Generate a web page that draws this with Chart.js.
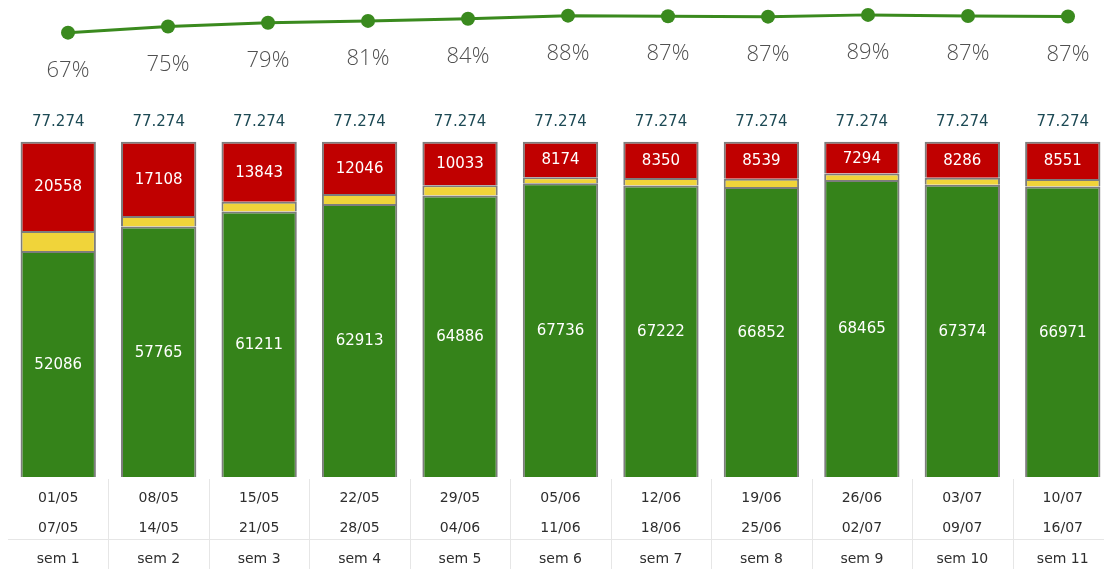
<!DOCTYPE html>
<html>
<head>
<meta charset="utf-8">
<script src="https://cdn.jsdelivr.net/npm/chart.js@4/dist/chart.umd.min.js"></script>
<style>
  html, body { margin: 0; padding: 0; background: #fff; overflow: hidden; }
  #wrap { width: 1120px; height: 569px; position: relative; }
  #c { display: block; }
</style>
</head>
<body>
<div id="wrap"><canvas id="c" width="1120" height="569"></canvas></div>
<script>
const categories = ['sem 1','sem 2','sem 3','sem 4','sem 5','sem 6','sem 7','sem 8','sem 9','sem 10','sem 11'];
const dateFrom = ['01/05','08/05','15/05','22/05','29/05','05/06','12/06','19/06','26/06','03/07','10/07'];
const dateTo   = ['07/05','14/05','21/05','28/05','04/06','11/06','18/06','25/06','02/07','09/07','16/07'];
const greenValues  = [52086,57765,61211,62913,64886,67736,67222,66852,68465,67374,66971];
const yellowValues = [4630,2401,2220,2315,2355,1364,1702,1883,1515,1614,1752];
const redValues    = [20558,17108,13843,12046,10033,8174,8350,8539,7294,8286,8551];
const pctValues    = [67.4,74.8,79.2,81.4,84.0,87.7,87.0,86.5,88.6,87.2,86.7];

const GREEN = '#35831a', YELLOW = '#f0d43a', RED = '#c00000', BORDER = '#7d7d7d';

const labelPlugin = {
  id: 'labels',
  afterDatasetsDraw(chart) {
    const ctx = chart.ctx;
    ctx.save();
    ctx.textAlign = 'center';
    ctx.textBaseline = 'middle';
    [0, 2].forEach(di => {
      const meta = chart.getDatasetMeta(di);
      meta.data.forEach((bar, i) => {
        const v = chart.data.datasets[di].data[i];
        const p = bar.getProps(['x','y','base'], true);
        ctx.fillStyle = '#ffffff';
        ctx.font = '15px "DejaVu Sans"';
        ctx.fillText(String(v), p.x, (p.y + p.base) / 2 + 1);
      });
    });
    const top = chart.getDatasetMeta(2);
    top.data.forEach((bar, i) => {
      const total = greenValues[i] + yellowValues[i] + redValues[i];
      const p = bar.getProps(['x','y'], true);
      ctx.fillStyle = '#1d4a55';
      ctx.font = '15px "DejaVu Sans"';
      ctx.fillText(total.toLocaleString('de-DE'), p.x, p.y - 20);
    });
    const lm = chart.getDatasetMeta(3);
    lm.data.forEach((pt, i) => {
      ctx.fillStyle = '#505050';
      ctx.font = '300 22px "Open Sans"';
      ctx.fillText(Math.round(pctValues[i]) + '%', pt.x, pt.y + 38);
    });
    ctx.restore();
  },
  afterDraw(chart) {
    const ctx = chart.ctx;
    const xs = chart.scales.x;
    const ca = chart.chartArea;
    const H = chart.height;
    ctx.save();
    ctx.strokeStyle = '#e6e6e6';
    ctx.lineWidth = 1;
    for (let i = 0; i < categories.length; i++) {
      const x = Math.round((xs.getPixelForValue(i) + xs.getPixelForValue(i + 1)) / 2) + 0.5;
      ctx.beginPath();
      ctx.moveTo(x, ca.bottom + 2);
      ctx.lineTo(x, H);
      ctx.stroke();
    }
    const yLine = Math.round(ca.bottom + (H - ca.bottom) * 0.67) + 0.5;
    ctx.beginPath();
    ctx.moveTo(ca.left, yLine);
    ctx.lineTo(chart.width, yLine);
    ctx.stroke();
    ctx.restore();
  }
};

new Chart(document.getElementById('c'), {
  type: 'bar',
  data: {
    labels: categories.map((c, i) => [dateFrom[i], dateTo[i], c]),
    datasets: [
      { type: 'bar', grouped: false, data: greenValues, backgroundColor: GREEN, borderColor: BORDER, borderWidth: 2, xAxisID: 'x', yAxisID: 'y', order: 2 },
      { type: 'bar', grouped: false, data: yellowValues, backgroundColor: YELLOW, borderColor: BORDER, borderWidth: 2, xAxisID: 'x', yAxisID: 'y', order: 2 },
      { type: 'bar', grouped: false, data: redValues, backgroundColor: RED, borderColor: BORDER, borderWidth: 2, xAxisID: 'x', yAxisID: 'y', order: 2 },
      { type: 'line', data: pctValues.map((v, i) => ({ x: i, y: v })), borderColor: '#3a8a1e', backgroundColor: '#3a8a1e',
        borderWidth: 3, pointRadius: 7, pointHoverRadius: 7, pointBorderWidth: 0, xAxisID: 'x2', yAxisID: 'y2', order: 1, tension: 0 }
    ]
  },
  options: {
    responsive: false,
    maintainAspectRatio: false,
    devicePixelRatio: 1,
    animation: false,
    layout: { padding: { left: 8, right: 1, top: 0, bottom: 0 } },
    datasets: { bar: { categoryPercentage: 1, barPercentage: 0.75 } },
    plugins: { legend: { display: false }, tooltip: { enabled: false } },
    scales: {
      x: {
        stacked: true,
        grid: { display: false },
        border: { display: false },
        ticks: { autoSkip: false, maxRotation: 0, padding: -2, color: '#2e2e2e',
                 font: { family: 'DejaVu Sans', size: 14, lineHeight: 30.5 / 14 } },
        afterFit(scale) { scale.height = 92; }
      },
      x2: { type: 'linear', display: false, offset: false, grace: 0, min: -0.6, max: 10.45 },
      y: { stacked: true, display: false, min: 0, max: 108350 },
      y2: { type: 'linear', display: false, min: -463, max: 98 }
    }
  },
  plugins: [labelPlugin]
});
</script>
</body>
</html>
